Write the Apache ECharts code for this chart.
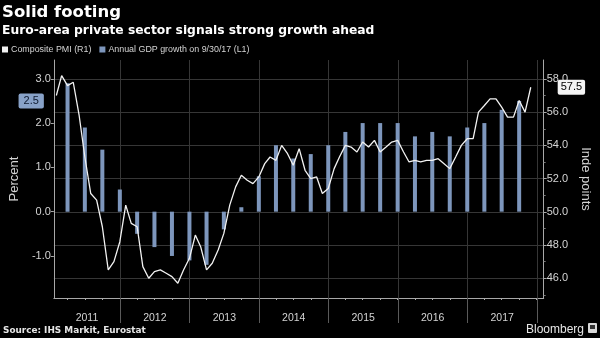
<!DOCTYPE html>
<html>
<head>
<meta charset="utf-8">
<script src="https://cdn.jsdelivr.net/npm/echarts@6/dist/echarts.min.js"></script>
<style>
  html, body { margin: 0; padding: 0; background: #000; }
  #chart { width: 600px; height: 338px; }
</style>
</head>
<body>
<div id="chart"></div>
<script>
// Euro-area composite PMI, monthly from January 2011 (index points, right axis)
const pmiFirstYear = 2011;
const pmiValues = [
  57.0, 58.2, 57.6, 57.8, 55.8, 53.3, 51.1, 50.7, 49.1, 46.5, 47.0, 48.2,
  50.4, 49.3, 49.1, 46.7, 46.0, 46.4, 46.5, 46.3, 46.1, 45.7, 46.5, 47.2,
  48.6, 47.9, 46.5, 46.9, 47.7, 48.7, 50.4, 51.5, 52.2, 51.9, 51.7, 52.1,
  52.9, 53.3, 53.1, 54.0, 53.5, 52.8, 53.8, 52.5, 52.0, 52.1, 51.1, 51.4,
  52.6, 53.3, 54.0, 53.9, 53.6, 54.2, 53.9, 54.3, 53.6, 53.9, 54.2, 54.3,
  53.6, 53.0, 53.1, 53.0, 53.1, 53.1, 53.2, 52.9, 52.6, 53.3, 54.0, 54.4,
  54.4, 56.0, 56.4, 56.8, 56.8, 56.3, 55.7, 55.7, 56.7, 56.0, 57.5
];

// Euro-area annual GDP growth, quarterly from Q1 2011 (percent, left axis)
const gdpFirstYear = 2011;
const gdpValues = [
  2.9, 1.9, 1.4, 0.5,
  -0.5, -0.8, -1.0, -1.1,
  -1.2, -0.4, 0.1, 0.8,
  1.5, 1.2, 1.3, 1.5,
  1.8, 2.0, 2.0, 2.0,
  1.7, 1.8, 1.7, 1.9,
  2.0, 2.3, 2.5
];

const yearLabels = [2011, 2012, 2013, 2014, 2015, 2016, 2017];
const percentTicks = [-1, 0, 1, 2, 3];
const indexTicks = [46, 48, 50, 52, 54, 56, 58];
const indexMinorTicks = [45, 47, 49, 51, 53, 55, 57];

// Visible time span (ms timestamps) and value ranges of the two y axes
const xMin = new Date(2011, 0, 18).getTime();
const xMax = new Date(2018, 1, 6).getTime();
const percentMin = -1.949, percentMax = 3.424;
const indexMin = 44.81, indexMax = 59.14;

// Monthly PMI readings sit at month end, GDP readings at quarter end
const pmiData = pmiValues.map((v, i) => [new Date(pmiFirstYear, i + 1, 0).getTime(), v]);
const gdpData = gdpValues.map((v, i) => [new Date(gdpFirstYear, (i + 1) * 3, 0).getTime(), v]);

const quarterTicks = [];
for (let y = 2011; y <= 2018; y++) {
  for (let q = 1; q <= 4; q++) {
    const t = new Date(y, q * 3, 0).getTime();
    if (t > xMin && t < xMax) quarterTicks.push(t);
  }
}
const yearStarts = yearLabels.map(y => new Date(y + 1, 0, 1).getTime());
// Year names are centred on the visible part of each year
const yearCentres = yearLabels.map(y => {
  const a = Math.max(new Date(y, 0, 1).getTime(), xMin);
  const b = Math.min(new Date(y + 1, 0, 1).getTime(), xMax);
  return (a + b) / 2;
});

const SANS = "'Liberation Sans', Arial, sans-serif";
const BOLD = "'DejaVu Sans', sans-serif";
const BAR = '#7d96bc';
const AXIS = '#a8a8a8';
const GRID = '#363636';
const TEXT = '#d4d4d4';

const chart = echarts.init(document.getElementById('chart'), null, { renderer: 'canvas' });

chart.setOption({
  backgroundColor: '#000',
  animation: false,
  textStyle: { fontFamily: SANS },
  title: [
    { text: 'Solid footing', left: 2, top: 4, padding: 0,
      textStyle: { color: '#fff', fontFamily: BOLD, fontWeight: 'bold', fontSize: 16.5 } },
    { text: 'Euro-area private sector signals strong growth ahead', left: 2, top: 25, padding: 0,
      textStyle: { color: '#fff', fontFamily: BOLD, fontWeight: 'bold', fontSize: 12.3 } },
    { text: 'Source: IHS Markit, Eurostat', left: 3, top: 326, padding: 0,
      textStyle: { color: '#e6e6e6', fontFamily: BOLD, fontWeight: 'bold', fontSize: 8.9 } },
    { text: 'Bloomberg', right: 16, top: 324, padding: 0,
      textStyle: { color: '#e6e6e6', fontFamily: SANS, fontWeight: 'normal', fontSize: 12 } }
  ],
  graphic: [
    { type: 'rect', right: 3, top: 323, shape: { width: 9, height: 10, r: 1 }, style: { fill: '#d8d8d8' } },
    { type: 'rect', right: 5, top: 325, shape: { width: 5, height: 4 }, style: { fill: '#333' } }
  ],
  legend: {
    left: 2, top: 45, padding: 0,
    icon: 'rect', itemWidth: 6, itemHeight: 6, itemGap: 8,
    selectedMode: false,
    textStyle: { color: TEXT, fontSize: 8.9, fontFamily: SANS, padding: [0, 0, 0, -2] },
    data: ['Composite PMI (R1)', 'Annual GDP growth on 9/30/17 (L1)']
  },
  grid: { left: 43, right: 44, top: 60, bottom: 40 },
  xAxis: [
    {
      type: 'value', min: xMin, max: xMax, position: 'bottom',
      axisLine: { show: true, onZero: false, lineStyle: { color: AXIS, width: 1 } },
      axisTick: { show: true, customValues: quarterTicks, length: 2, lineStyle: { color: AXIS } },
      axisLabel: { show: false },
      splitLine: { show: false }
    },
    {
      type: 'value', min: xMin, max: xMax, position: 'bottom',
      axisLine: { show: false, onZero: false },
      axisTick: { show: true, customValues: yearStarts, length: 25, lineStyle: { color: '#5a5a5a' } },
      axisLabel: {
        show: true, customValues: yearCentres, margin: 15,
        color: TEXT, fontSize: 10.5, fontFamily: SANS,
        formatter: v => String(new Date(v).getFullYear())
      },
      splitLine: { show: true, lineStyle: { color: GRID, width: 1 } }
    }
  ],
  yAxis: [
    {
      type: 'value', position: 'left', min: percentMin, max: percentMax,
      name: 'Percent', nameLocation: 'middle', nameGap: 28,
      nameTextStyle: { color: TEXT, fontSize: 13, fontFamily: SANS },
      axisLine: { show: true, onZero: false, lineStyle: { color: AXIS } },
      axisTick: { show: true, customValues: percentTicks, length: 3, lineStyle: { color: AXIS } },
      axisLabel: { customValues: percentTicks, color: TEXT, fontSize: 11, margin: 3,
        formatter: v => v.toFixed(1) },
      splitLine: { show: false },
      axisPointer: {
        show: true, status: 'show', value: gdpValues[gdpValues.length - 1],
        triggerTooltip: false, type: 'line', lineStyle: { opacity: 0 },
        label: { show: true, backgroundColor: '#88a2c8', color: '#0e1a30', fontSize: 11,
          padding: [2, 5, 2, 5], borderRadius: 2, margin: 10,
          formatter: p => Number(p.value).toFixed(1) }
      }
    },
    {
      type: 'value', position: 'right', min: indexMin, max: indexMax,
      name: 'Inde points', nameLocation: 'middle', nameGap: 30, nameRotate: -90,
      nameTextStyle: { color: TEXT, fontSize: 13, fontFamily: SANS },
      axisLine: { show: true, onZero: false, lineStyle: { color: AXIS } },
      axisTick: { show: true, customValues: indexTicks, length: 3, lineStyle: { color: AXIS } },
      axisLabel: { customValues: indexTicks, color: TEXT, fontSize: 11, margin: 3,
        formatter: v => v.toFixed(1) },
      splitLine: { show: true, lineStyle: { color: GRID, width: 1 } },
      axisPointer: {
        show: true, status: 'show', value: pmiValues[pmiValues.length - 1],
        triggerTooltip: false, type: 'line', lineStyle: { opacity: 0 },
        label: { show: true, backgroundColor: '#f4f4f4', color: '#000', fontSize: 11,
          padding: [2, 3, 2, 3], borderRadius: 2, margin: 14,
          formatter: p => Number(p.value).toFixed(1) }
      }
    },
    {
      type: 'value', position: 'right', min: indexMin, max: indexMax,
      axisLine: { show: false, onZero: false },
      axisTick: { show: true, customValues: indexMinorTicks, length: 2, lineStyle: { color: '#777' } },
      axisLabel: { show: false },
      splitLine: { show: false }
    }
  ],
  series: [
    {
      name: 'Composite PMI (R1)', type: 'line',
      xAxisIndex: 0, yAxisIndex: 1,
      data: pmiData, showSymbol: false, z: 5,
      itemStyle: { color: '#f2f2f2' },
      lineStyle: { color: '#f2f2f2', width: 1.3 }
    },
    {
      name: 'Annual GDP growth on 9/30/17 (L1)', type: 'bar',
      xAxisIndex: 0, yAxisIndex: 0,
      data: gdpData, barWidth: 4, z: 2,
      itemStyle: { color: BAR }
    }
  ]
});
</script>
</body>
</html>
